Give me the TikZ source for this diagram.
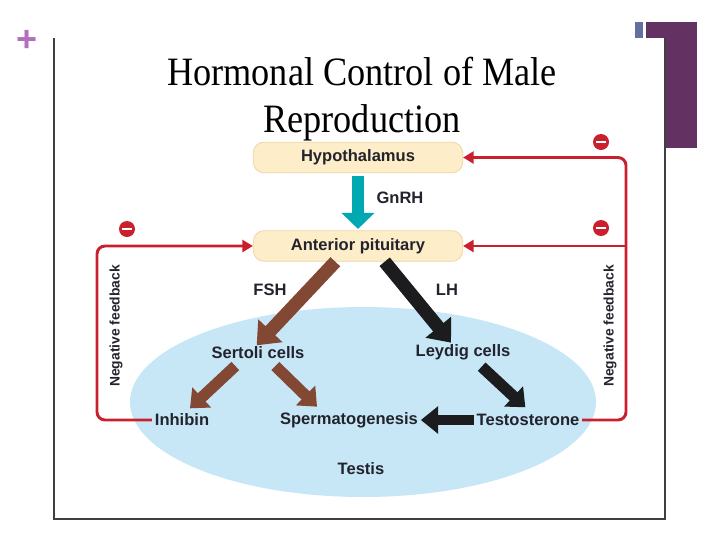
\documentclass[tikz,border=0pt]{standalone}
\usepackage{fontspec}
\setmainfont{Liberation Serif}
\setsansfont{Liberation Sans}
\usetikzlibrary{arrows.meta,positioning}
\definecolor{boxfill}{RGB}{253,237,200}
\definecolor{boxdraw}{RGB}{236,214,165}
\definecolor{gnrhteal}{RGB}{0,168,178}
\definecolor{fshbrown}{RGB}{130,72,52}
\definecolor{lhblack}{RGB}{28,28,30}
\definecolor{fbred}{RGB}{202,32,45}
\definecolor{testisblue}{RGB}{199,231,247}
\definecolor{labtext}{RGB}{35,35,45}
\definecolor{slidepurple}{RGB}{99,50,99}
\definecolor{slideblue}{RGB}{100,110,160}
\definecolor{pluscolor}{RGB}{180,110,190}

\begin{document}
\begin{tikzpicture}[x=0.75pt,y=-0.75pt,
    lab/.style={font=\sffamily\bfseries\fontsize{12.4}{14}\selectfont,text=labtext,inner sep=1pt},
    gland/.style={lab,draw=boxdraw,fill=boxfill,rounded corners=8pt,
      minimum width=157pt,minimum height=23pt,line width=0.6pt},
    fb/.style={draw=fbred,line width=2.2pt,rounded corners=6pt},
    fbtip/.style={-{Triangle[width=9pt,length=8pt]}},
    minus/.style={circle,fill=fbred,inner sep=0pt,minimum size=12pt,text=white},
    fat/.style={line width=10pt,-{Triangle[width=24pt,length=15pt]}},
    thin arrow/.style={line width=8.5pt,-{Triangle[width=20pt,length=12pt]}},
    vlab/.style={font=\sffamily\bfseries\fontsize{10.4}{12}\selectfont,text=labtext,rotate=90}]
  \useasboundingbox (0,0) rectangle (720,540);
  % slide frame
  \fill[slideblue] (635,22) rectangle (643,38);
  \fill[slidepurple] (646,22) rectangle (697,38);
  \fill[slidepurple] (665,22) rectangle (697,148);
  \draw[black!75,line width=0.8pt] (54,38) -- (54,519) -- (665,519) -- (665,38);
  \node[font=\sffamily\bfseries\fontsize{27}{27}\selectfont,text=pluscolor,inner sep=0pt] (plus) at (27.5,41) {+};
  \node[font=\fontsize{30.2}{35}\selectfont,align=center,xscale=0.9,inner sep=0pt] (title) at (362,99)
    {Hormonal Control of Male\\Reproduction};

  % testis
  \fill[testisblue] (363,402) ellipse [x radius=233, y radius=95];

  % glands and cells
  \node[gland] (hyp) at (358,157.5) {Hypothalamus};
  \node[gland] (pit) at (358,246) {Anterior pituitary};
  \node[lab] (ser) at (258,353) {Sertoli cells};
  \node[lab] (ley) at (463,352) {Leydig cells};
  \node[lab] (inh) at (182,420) {Inhibin};
  \node[lab] (sperm) at (349,420) {Spermatogenesis};
  \node[lab] (tes) at (528,420) {Testosterone};
  \node[lab] (testis) at (361,469) {Testis};

  % hormone labels
  \node[lab] (gnrh) at (400,198) {GnRH};
  \node[lab] (fsh) at (270,290) {FSH};
  \node[lab] (lh) at (447,290) {LH};

  % thick arrows
  \draw[gnrhteal,line width=9pt,-{Triangle[width=24pt,length=12pt]},shorten <=2pt,shorten >=1pt]
    (hyp.south) -- (pit.north);
  \draw[fat,fshbrown] ([xshift=-17pt]pit.south) -- ([xshift=-1pt]ser.north);
  \draw[fat,lhblack] ([xshift=20pt]pit.south) -- ([xshift=-9pt]ley.north);
  \draw[thin arrow,fshbrown] ([xshift=-17pt,yshift=-4pt]ser.south) -- ([xshift=6pt,yshift=3pt]inh.north);
  \draw[thin arrow,fshbrown] ([xshift=13pt,yshift=-4pt]ser.south) -- ([xshift=-24pt,yshift=3pt]sperm.north);
  \draw[thin arrow,lhblack] ([xshift=14pt,yshift=-4pt]ley.south) -- ([xshift=-2pt,yshift=4pt]tes.north);
  \draw[line width=8pt,lhblack,-{Triangle[width=20pt,length=13pt]},shorten <=1pt,shorten >=1pt]
    (tes.west) -- (sperm.east);

  % negative feedback loops
  \coordinate (fbL) at (97,0);
  \coordinate (fbR) at (626,0);
  \draw[fb,fbtip] ([xshift=-1pt]inh.west) -| (fbL |- pit.west) -- (pit.west);
  \draw[fb,fbtip] ([xshift=1pt]tes.east) -| (fbR |- hyp.east) -- (hyp.east);
  \draw[fb,fbtip] (fbR |- pit.east) -- (pit.east);
  \node[minus] (m1) at (601,142) {\rule[-0.9pt]{7pt}{1.8pt}};
  \node[minus] (m2) at (601,228) {\rule[-0.9pt]{7pt}{1.8pt}};
  \node[minus] (m3) at (127,229) {\rule[-0.9pt]{7pt}{1.8pt}};
  \node[vlab] (nfL) at (116,326) {Negative feedback};
  \node[vlab] (nfR) at (610,326) {Negative feedback};
\end{tikzpicture}
\end{document}
